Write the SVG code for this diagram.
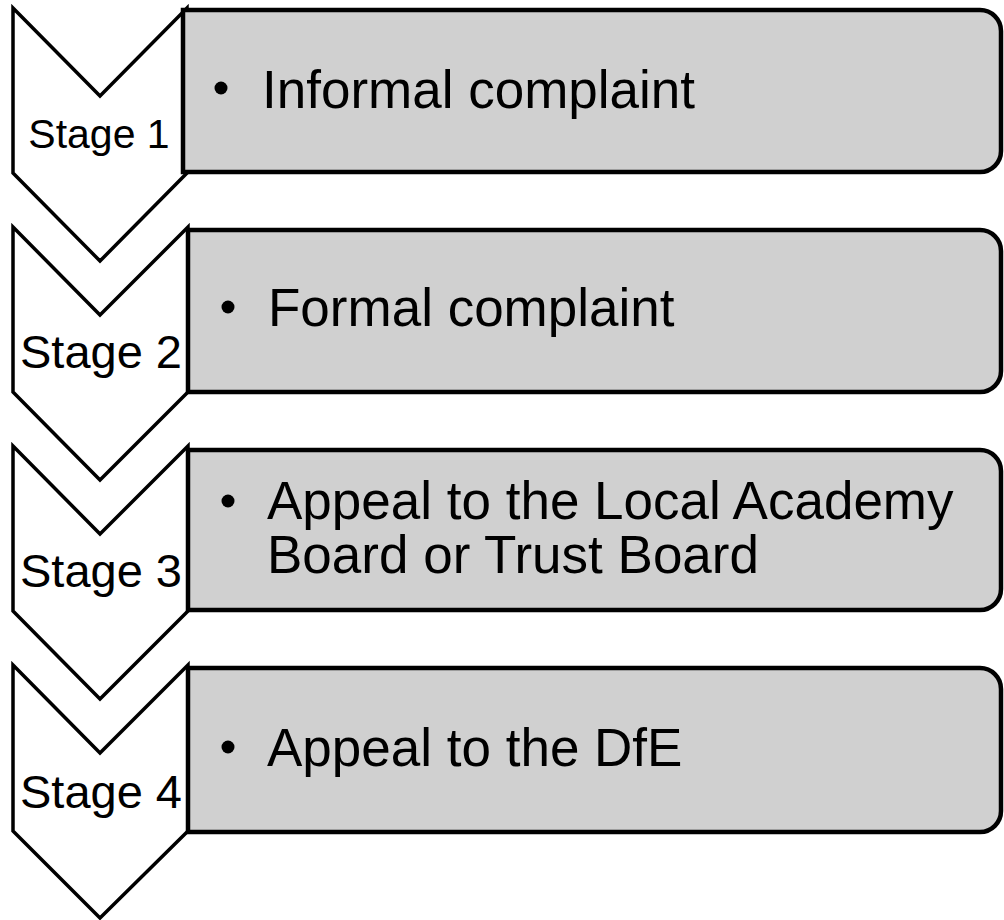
<svg xmlns="http://www.w3.org/2000/svg" width="1004" height="920" viewBox="0 0 1004 920">
<style>
.chev{fill:#ffffff;stroke:#000000;stroke-width:3.5;stroke-linejoin:miter}
.box{fill:#d0d0d0;stroke:#000000;stroke-width:4.5}
.stage{font-family:"Liberation Sans",Arial,sans-serif;fill:#000;text-anchor:middle}
.item{font-family:"Liberation Sans",Arial,sans-serif;fill:#000;font-size:53px}
.bul{fill:#000}
</style>
<rect width="1004" height="920" fill="#ffffff"/>
<g id="connectors"></g>
<g id="stage1">
<polygon class="chev" points="13,8 100,96 187,8 187,173 100,261 13,173"/>
<path class="box" d="M183,10 H980 A21,21 0 0 1 1001,31 V151 A21,21 0 0 1 980,172 H183 Z"/>
<text class="stage" x="99" y="148" font-size="41">Stage 1</text>
<circle class="bul" cx="221" cy="88" r="6.5"/>
<text class="item" x="262" y="108">Informal complaint</text>
</g>
<g id="stage2">
<polygon class="chev" points="13,227 100,315 188,227 188,392 100,480 13,392"/>
<path class="box" d="M188,230 H980 A21,21 0 0 1 1001,251 V371 A21,21 0 0 1 980,392 H188 Z"/>
<text class="stage" x="101" y="368" font-size="47">Stage 2</text>
<circle class="bul" cx="228" cy="307" r="6.5"/>
<text class="item" x="268" y="326">Formal complaint</text>
</g>
<g id="stage3">
<polygon class="chev" points="13,446 100,534 188,446 188,611 100,699 13,611"/>
<path class="box" d="M188,450 H980 A21,21 0 0 1 1001,471 V589 A21,21 0 0 1 980,610 H188 Z"/>
<text class="stage" x="101" y="587" font-size="47">Stage 3</text>
<circle class="bul" cx="228" cy="501" r="6.5"/>
<text class="item" x="267" y="519" font-size="52">Appeal to the Local Academy</text>
<text class="item" x="267" y="573" font-size="52">Board or Trust Board</text>
</g>
<g id="stage4">
<polygon class="chev" points="13,665 100,753 188,665 188,831 100,918 13,831"/>
<path class="box" d="M188,668 H980 A21,21 0 0 1 1001,689 V811 A21,21 0 0 1 980,832 H188 Z"/>
<text class="stage" x="101" y="808" font-size="47">Stage 4</text>
<circle class="bul" cx="228" cy="747" r="6.5"/>
<text class="item" x="267" y="766">Appeal to the DfE</text>
</g>
</svg>
